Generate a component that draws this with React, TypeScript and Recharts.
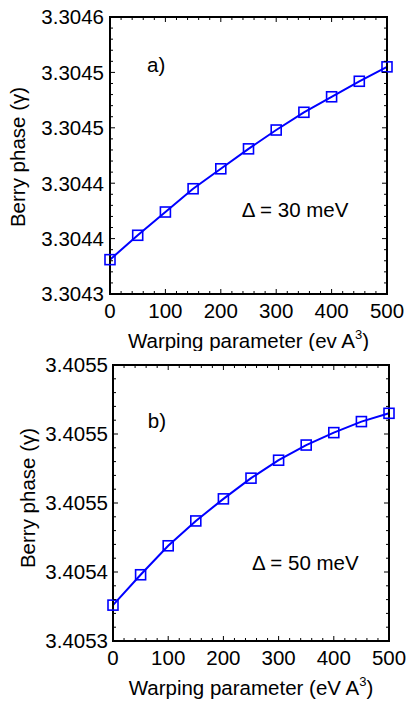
import React from 'react';
import { LineChart, Line, XAxis, YAxis, ReferenceArea } from 'recharts';

const warping = [0, 50, 100, 150, 200, 250, 300, 350, 400, 450, 500];
const berryA = [3.304331, 3.304353, 3.304374, 3.304395, 3.304413, 3.304431, 3.304448, 3.304464, 3.304478, 3.304492, 3.304505];
const berryB = [3.405326, 3.405348, 3.405369, 3.405387, 3.405403, 3.405418, 3.405431, 3.405442, 3.405451, 3.405459, 3.405465];
const xTicks = [0, 100, 200, 300, 400, 500];
const yTicksA = [3.3043, 3.30435, 3.3044, 3.30445, 3.3045, 3.30455];
const yTickLabelsA = ['3.3043', '3.3044', '3.3044', '3.3045', '3.3045', '3.3046'];
const yTicksB = [3.4053, 3.40535, 3.4054, 3.40545, 3.4055];
const yTickLabelsB = ['3.4053', '3.4054', '3.4055', '3.4055', '3.4055'];

const FONT = '"Liberation Sans", Arial, Helvetica, sans-serif';
const BLUE = '#0000ff';
const FS = 20.5;
const W = 409;
const H = 351;
const TS = 6;
const TM = 2;

function withMinor(majors: number[], sub: number): number[] {
  const out: number[] = [];
  for (let i = 0; i < majors.length - 1; i++) {
    for (let j = 0; j < sub; j++) out.push(majors[i] + ((majors[i + 1] - majors[i]) * j) / sub);
  }
  out.push(majors[majors.length - 1]);
  return out;
}

function isMajor(v: any, majors: number[]) {
  const n = Number(v);
  return majors.findIndex((m) => Math.abs(m - n) < 1e-9);
}

function renderSquare(props: any) {
  const { cx, cy, index } = props;
  if (cx == null || cy == null) return <g key={`sq-${index}`} />;
  return <rect key={`sq-${index}`} x={cx - 5} y={cy - 5} width={10} height={10} fill="none" stroke={BLUE} strokeWidth={1.6} />;
}

type Cfg = {
  values: number[];
  yTicks: number[];
  yLabels: string[];
  top: number;
  right: number;
  left: number;
  bottomH: number;
  yLabelGap: number;
  yTitleX: number;
  yTitleDy: number;
  unit: string;
  tag: string;
  tagPos: [number, number];
  delta: string;
  deltaPos: [number, number];
};

function makePanel(p: Cfg) {
  const data = warping.map((w, i) => ({ w, v: p.values[i] }));
  const xAll = withMinor(xTicks, 5);
  const yAll = withMinor(p.yTicks, 5);
  const domain: [number, number] = [p.yTicks[0], p.yTicks[p.yTicks.length - 1]];
  const plotH = H - p.top - p.bottomH;
  const plotW = W - p.left - p.right;

  const bottomTick = (t: any) => {
    const v = Number(t.payload.value);
    const major = isMajor(v, xTicks) >= 0;
    const len = major ? 5 : 3;
    const yAxisLine = t.y - TS - TM;
    const yTop = yAxisLine - plotH;
    return (
      <g>
        <rect x={t.x - 0.5} y={yAxisLine - len} width={1} height={len} fill="#000" />
        <rect x={t.x - 0.5} y={yTop} width={1} height={len} fill="#000" />
        {major && (
          <text x={t.x} y={yAxisLine + 24} textAnchor="middle" fontSize={FS} fontFamily={FONT} fill="#000">
            {String(v)}
          </text>
        )}
      </g>
    );
  };
  const leftTick = (t: any) => {
    const idx = isMajor(t.payload.value, p.yTicks);
    const len = idx >= 0 ? 5 : 3;
    const xAxisLine = t.x + TS + TM;
    const xR = xAxisLine + plotW;
    return (
      <g>
        <rect x={xAxisLine} y={t.y - 0.5} width={len} height={1} fill="#000" />
        <rect x={xR - len} y={t.y - 0.5} width={len} height={1} fill="#000" />
        {idx >= 0 && (
          <text x={xAxisLine - p.yLabelGap} y={t.y} dy="0.36em" textAnchor="end" fontSize={FS} fontFamily={FONT} fill="#000">
            {p.yLabels[idx]}
          </text>
        )}
      </g>
    );
  };

  const xTitle = (lp: any) => {
    const vb = lp.viewBox || {};
    const px = (xv: number) => vb.x + (xv / 500) * vb.width;
    const py = (yv: number) => vb.y - ((yv - domain[0]) / (domain[1] - domain[0])) * plotH;
    return (
      <g>
        <path
          d={`M${vb.x},${vb.y - plotH}H${vb.x + vb.width}V${vb.y}`}
          fill="none"
          stroke="#000"
          strokeWidth={2}
        />
        <text x={px(p.tagPos[0])} y={py(p.tagPos[1])} dy="0.36em" fontSize={FS} fontFamily={FONT} fill="#000">
          {p.tag}
        </text>
        <text x={px(p.deltaPos[0])} y={py(p.deltaPos[1])} dy="0.36em" fontSize={FS} fontFamily={FONT} fill="#000">
          {p.delta}
        </text>
        <text x={vb.x + vb.width / 2} y={vb.y + 54} textAnchor="middle" fontSize={FS} fontFamily={FONT} fill="#000">
          {'Warping parameter (' + p.unit + ' A'}
          <tspan dy={-9} fontSize={13}>3</tspan>
          <tspan dy={9}>)</tspan>
        </text>
      </g>
    );
  };
  const yTitle = (lp: any) => {
    const vb = lp.viewBox || {};
    const cx = p.yTitleX;
    const cy = vb.y + vb.height / 2 + p.yTitleDy;
    return (
      <text x={cx} y={cy} transform={`rotate(-90, ${cx}, ${cy})`} textAnchor="middle" fontSize={FS} fontFamily={FONT} fill="#000">
        Berry phase (γ)
      </text>
    );
  };

  const xLabel = { content: xTitle };
  const yLabel = { content: yTitle };
  const margin = { top: p.top, right: p.right, bottom: 0, left: 0 };
  const axisLine = { stroke: '#000', strokeWidth: 2 };

  return function PanelChart() {
    return (
      <LineChart width={W} height={H} data={data} margin={margin}>
        <XAxis
          xAxisId="b"
          dataKey="w"
          type="number"
          domain={[0, 500]}
          ticks={xAll}
          interval={0}
          height={p.bottomH}
          tickSize={TS}
          tickMargin={TM}
          tickLine={false}
          axisLine={axisLine}
          tick={bottomTick}
          label={xLabel}
        />
        <YAxis
          yAxisId="l"
          type="number"
          domain={domain}
          ticks={yAll}
          interval={0}
          width={p.left}
          tickSize={TS}
          tickMargin={TM}
          tickLine={false}
          axisLine={axisLine}
          tick={leftTick}
          label={yLabel}
        />
        <ReferenceArea
          xAxisId="b"
          yAxisId="l"
          x1={0}
          x2={500}
          y1={domain[0]}
          y2={domain[1]}
          fill="none"
          fillOpacity={0}
          stroke="#000"
          strokeWidth={2}
          strokeOpacity={1}
          ifOverflow="visible"
        />
        <Line
          xAxisId="b"
          yAxisId="l"
          dataKey="v"
          stroke={BLUE}
          strokeWidth={2}
          dot={renderSquare}
          activeDot={false}
          isAnimationActive={false}
          type="linear"
        />
      </LineChart>
    );
  };
}

const PanelA = makePanel({
  values: berryA,
  yTicks: yTicksA,
  yLabels: yTickLabelsA,
  top: 17,
  right: 22,
  left: 110,
  bottomH: 57,
  yLabelGap: 6,
  yTitleX: 25,
  yTitleDy: 1.5,
  unit: 'ev',
  tag: 'a)',
  tagPos: [67, 3.304507],
  delta: 'Δ = 30 meV',
  deltaPos: [238, 3.304376],
});

const PanelB = makePanel({
  values: berryB,
  yTicks: yTicksB,
  yLabels: yTickLabelsB,
  top: 14,
  right: 20,
  left: 113,
  bottomH: 61,
  yLabelGap: 5,
  yTitleX: 35,
  yTitleDy: -5,
  unit: 'eV',
  tag: 'b)',
  tagPos: [63, 3.40546],
  delta: 'Δ = 50 meV',
  deltaPos: [252, 3.405357],
});

export default function App() {
  return (
    <div style={{ position: 'absolute', left: 0, top: 0, width: W, height: 702, background: '#fff' }}>
      <PanelA />
      <PanelB />
    </div>
  );
}
